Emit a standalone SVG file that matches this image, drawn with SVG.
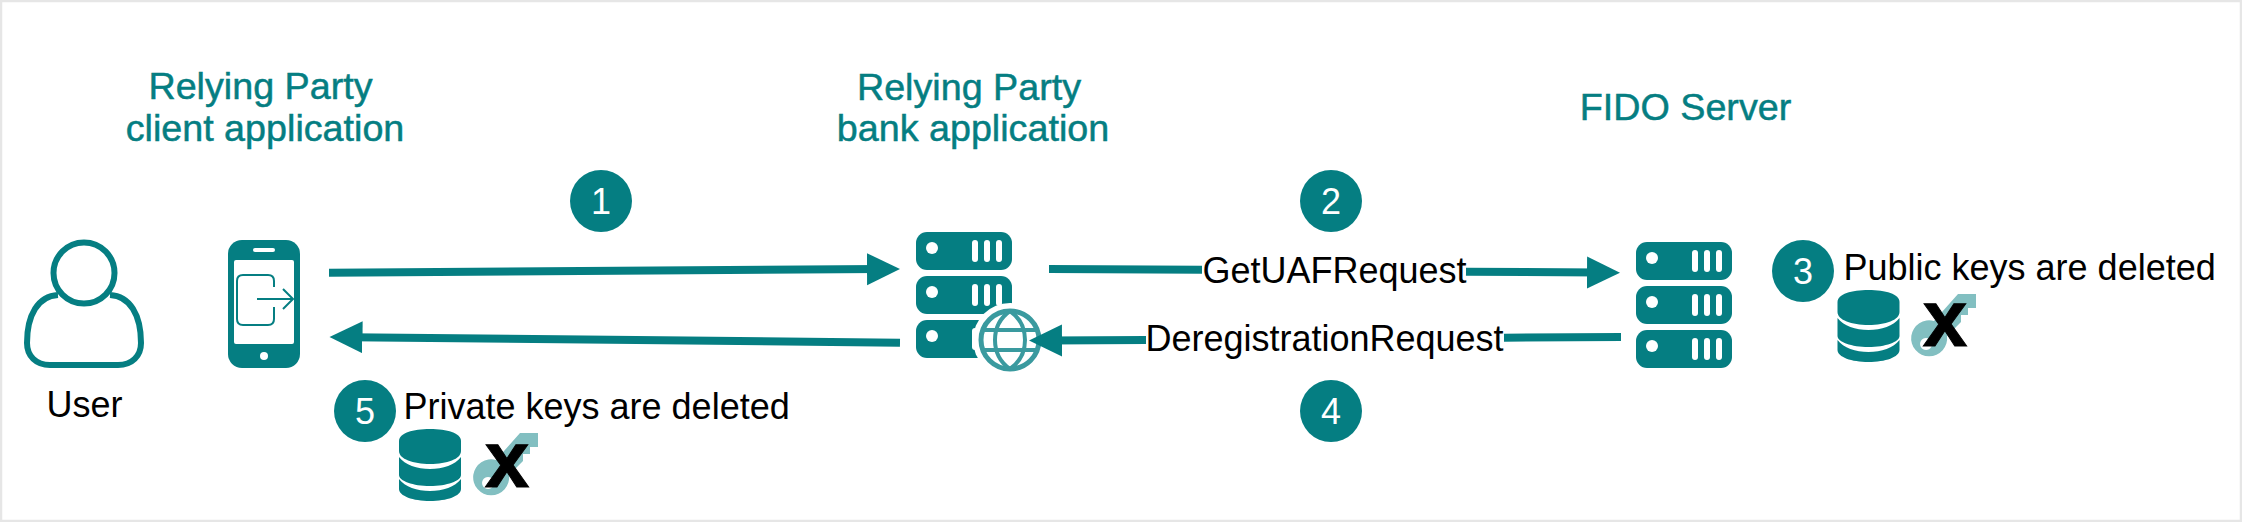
<svg xmlns="http://www.w3.org/2000/svg" width="2242" height="522" viewBox="0 0 2242 522">
<style>
text{font-family:"Liberation Sans",Arial,sans-serif;font-size:36px;fill:#000}
.title{fill:#057e82;text-anchor:middle;font-size:37.7px;stroke:#057e82;stroke-width:.5}
.lab{text-anchor:middle}
.num{fill:#fff;font-size:36px;text-anchor:middle}
.x{font-weight:bold;font-size:80px;text-anchor:middle;stroke:#000;stroke-width:1}
.badge{fill:#057e82}
.t{fill:#057e82}
.w{fill:#fff}
.c{fill:none;stroke:#057e82;stroke-width:8}
</style>
<defs>
<marker id="head" markerUnits="userSpaceOnUse" markerWidth="33" markerHeight="34" refX="13" refY="17" orient="auto"><path d="M0 1L33 17L0 33Z" fill="#057e82"/></marker>
<symbol id="server" overflow="visible">
<rect class="t" width="96" height="38" rx="11"/><rect class="t" y="44" width="96" height="38" rx="11"/><rect class="t" y="88" width="96" height="38" rx="11"/>
<g class="w"><circle cx="16" cy="16" r="6"/><circle cx="16" cy="60" r="6"/><circle cx="16" cy="104" r="6"/>
<rect x="56" y="8" width="6" height="22" rx="3"/><rect x="68" y="8" width="6" height="22" rx="3"/><rect x="80" y="8" width="6" height="22" rx="3"/>
<rect x="56" y="52" width="6" height="22" rx="3"/><rect x="68" y="52" width="6" height="22" rx="3"/><rect x="80" y="52" width="6" height="22" rx="3"/>
<rect x="56" y="96" width="6" height="22" rx="3"/><rect x="68" y="96" width="6" height="22" rx="3"/><rect x="80" y="96" width="6" height="22" rx="3"/></g>
</symbol>
<symbol id="db" overflow="visible">
<path class="t" d="M0 12C0 4 14 0 31 0S62 4 62 12V22C62 30 48 35 31 35S0 30 0 22Z"/>
<path class="t" d="M0 28C6 36 18 40 31 40S56 36 62 28V46C62 52 48 57 31 57S0 52 0 46Z"/>
<path class="t" d="M0 50C6 58 18 62 31 62S56 58 62 50V60C62 67 48 72 31 72S0 67 0 60Z"/>
</symbol>
<symbol id="key" overflow="visible">
<path fill="#82bfc1" fill-rule="evenodd" d="M46 0H64V14H56V21H49V28L35 42A18 18 0 1 1 22 27ZM14 44A6 6 0 1 0 14.100 44Z"/>
</symbol>
</defs>
<rect x="1" y="1" width="2240" height="520" fill="#fff" stroke="#e6e6e6" stroke-width="2.5"/>
<g id="title-client"><text class="title" x="260.500" y="99">Relying Party</text><text class="title" x="265" y="141">client application</text></g>
<g id="title-bank"><text class="title" x="969" y="100">Relying Party</text><text class="title" x="973" y="141">bank application</text></g>
<g id="title-fido"><text class="title" x="1685.500" y="119.500">FIDO Server</text></g>
<g id="user">
<circle cx="84" cy="273" r="30.500" fill="none" stroke="#057e82" stroke-width="6"/>
<path d="M58 295C38 296 27 315 27 343C27 356 36 365 50 365H118C132 365 141 356 141 343C141 315 130 296 110 295" fill="none" stroke="#057e82" stroke-width="6"/>
<text class="lab" x="84.500" y="416.500">User</text>
</g>
<g id="phone">
<rect class="t" x="228" y="240" width="72" height="128" rx="14"/>
<rect class="w" x="234" y="260" width="60" height="84" rx="2"/>
<rect class="w" x="253" y="248" width="22" height="4" rx="2"/>
<circle class="w" cx="264" cy="356" r="4"/>
<path d="M274 287V281Q274 275 268 275H243Q237 275 237 281V319Q237 325 243 325H268Q274 325 274 319V307M257 299H293M283 289L293 299L283 309" fill="none" stroke="#057e82" stroke-width="2"/>
</g>
<g id="server-bank">
<use href="#server" x="916" y="232"/>
<circle class="w" cx="1010" cy="340" r="37"/>
<circle cx="1010" cy="340" r="29" fill="none" stroke="#3a9a9f" stroke-width="5"/>
<path d="M983 330H1037M983 350H1037M1010 311C990 325 990 355 1010 369M1010 311C1030 325 1030 355 1010 369" fill="none" stroke="#3a9a9f" stroke-width="4"/>
</g>
<g id="server-fido"><use href="#server" x="1636" y="242"/></g>
<g id="connectors">
<path class="c" d="M329 272.700L880 269.100" marker-end="url(#head)"/>
<path class="c" d="M900 342.700L349.500 337.200" marker-end="url(#head)"/>
<path class="c" d="M1049 269L1202 269.700"/>
<path class="c" d="M1466 271.700L1600 272.600" marker-end="url(#head)"/>
<path class="c" d="M1621 337L1504 337.700"/>
<path class="c" d="M1146 340L1049 340.500" marker-end="url(#head)"/>
</g>
<g id="label-getuaf"><text class="lab" x="1334.500" y="283">GetUAFRequest</text></g>
<g id="label-dereg"><text class="lab" x="1324.500" y="351">DeregistrationRequest</text></g>
<g id="step1"><circle class="badge" cx="601" cy="201" r="31"/><text class="num" x="601" y="214">1</text></g>
<g id="step2"><circle class="badge" cx="1331" cy="201" r="31"/><text class="num" x="1331" y="214">2</text></g>
<g id="step3"><circle class="badge" cx="1803" cy="271" r="31"/><text class="num" x="1803" y="284">3</text></g>
<g id="step4"><circle class="badge" cx="1331" cy="411" r="31"/><text class="num" x="1331" y="424">4</text></g>
<g id="step5"><circle class="badge" cx="365" cy="411" r="31"/><text class="num" x="365" y="424">5</text></g>
<g id="public-keys">
<text x="1843.500" y="279.500">Public keys are deleted</text>
<use href="#db" x="1837.500" y="290"/><use href="#key" x="1912" y="294"/><text class="x" x="1945" y="346">x</text>
</g>
<g id="private-keys">
<text x="403.500" y="419">Private keys are deleted</text>
<use href="#db" x="399" y="429"/><use href="#key" x="474" y="433"/><text class="x" x="507" y="487">x</text>
</g>
</svg>
